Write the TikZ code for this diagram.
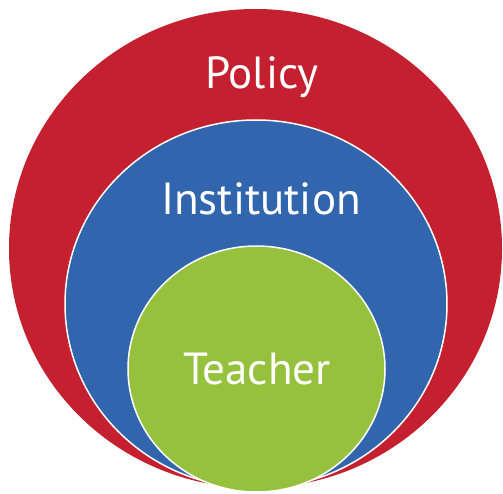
\documentclass[tikz,border=0pt]{standalone}
\usepackage{fontspec}
\setmainfont{PT Sans}
\definecolor{polred}{HTML}{C4202F}
\definecolor{instblue}{HTML}{3165AE}
\definecolor{teachgreen}{HTML}{95C13D}
\begin{document}
\begin{tikzpicture}[x=1pt,y=1pt,
  ring/.style={draw=white,line width=1.5pt},
  lbl/.style={text=white,anchor=base,inner sep=0pt,font=\fontsize{45}{45}\selectfont}]
\useasboundingbox (0,0) rectangle (503,493);
\fill[polred] (255.5,244.5) ellipse [x radius=246.5, y radius=239.5];
\filldraw[ring,fill=instblue] (256,189) ellipse [x radius=191, y radius=184];
\filldraw[ring,fill=teachgreen] (256.5,124) ellipse [x radius=128.5, y radius=123];
\node[lbl] (policy) at (262,404) {Policy};
\node[lbl] (inst) at (261,278) {Institution};
\node[lbl] (teach) at (257,109) {Teacher};
\end{tikzpicture}
\end{document}
